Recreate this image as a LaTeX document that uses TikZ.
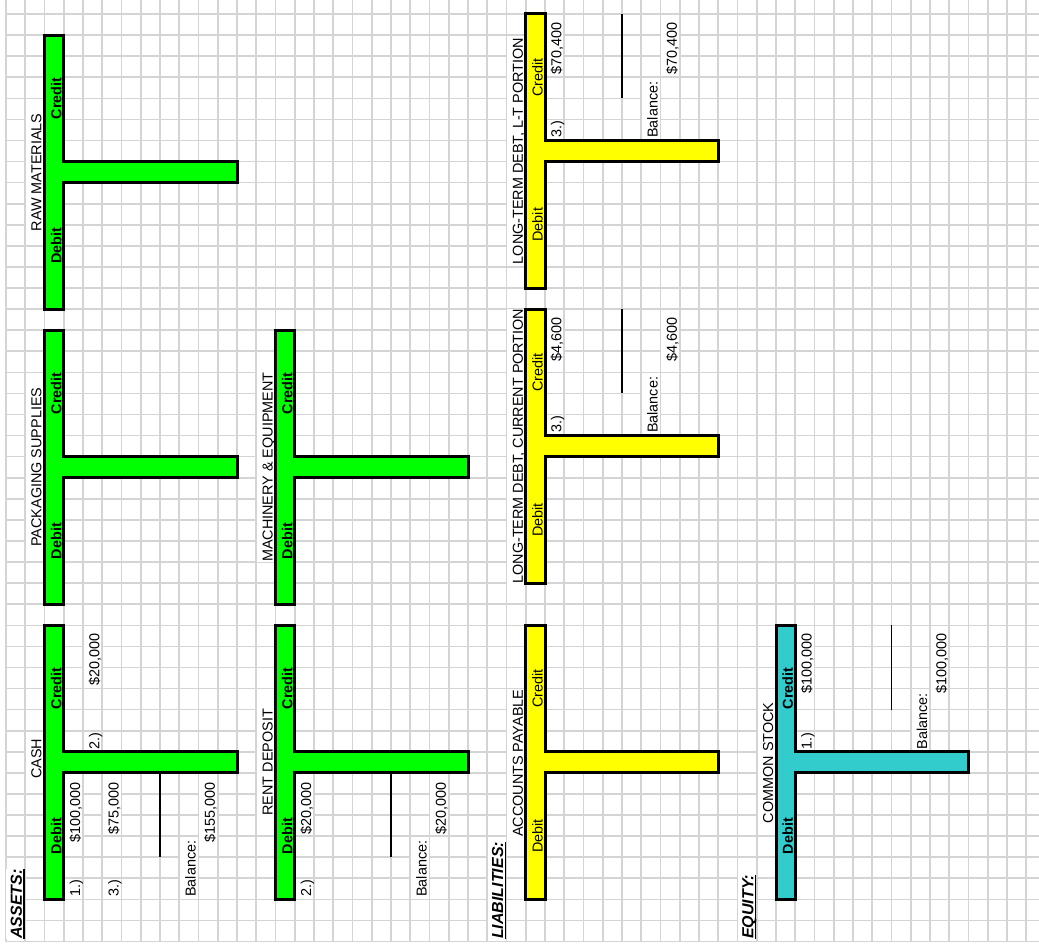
\documentclass[tikz,border=0pt]{standalone}
\usepackage{fontspec}
\setmainfont{Liberation Sans}
\newcommand\colx[1]{(6+19.25*(#1))}
\newcommand\rowy[1]{(14+21.08*(#1))}
\definecolor{tgreen}{HTML}{00FF00}
\definecolor{tyellow}{HTML}{FFFF00}
\definecolor{tteal}{HTML}{33CCCC}
\definecolor{gridgray}{HTML}{D4D4D4}
\tikzset{
  gridline/.style={draw=gridgray, line width=1.6pt, line cap=rect},
  tbar/.style={draw=black, line width=3pt, line join=miter},
  cell/.style={rotate=90, font=\fontsize{14.4}{16}\selectfont, inner sep=0pt,
    text height=15.5pt, text depth=2pt, fill=white},
  startcell/.style={cell, anchor=base west},
  endcell/.style={cell, anchor=base east},
  titlecell/.style={cell, anchor=base},
  dclabel/.style={rotate=90, font=\fontsize{14.4}{16}\selectfont, inner sep=0pt, anchor=base},
  dcbold/.style={dclabel, font=\fontsize{14.4}{16}\selectfont\bfseries},
  header/.style={cell, anchor=base west, font=\fontsize{16}{18}\selectfont\bfseries\itshape},
  ruleline/.style={draw=black, line width=1.8pt},
  headrule/.style={draw=black, line width=1.3pt},
}
% T-account: #1 name, #2 column, #3 first row, #4 last row, #5 stem row, #6 stem end column, #7 fill, #8 label style
\newcommand\taccount[8]{%
  \draw[tbar, fill=#7] ({\colx{#2}},{\rowy{#3}}) -- ({\colx{#2+1}},{\rowy{#3}})
    -- ({\colx{#2+1}},{\rowy{#5}}) -- ({\colx{#6}},{\rowy{#5}})
    -- ({\colx{#6}},{\rowy{#5+1}}) -- ({\colx{#2+1}},{\rowy{#5+1}})
    -- ({\colx{#2+1}},{\rowy{#4}}) -- ({\colx{#2}},{\rowy{#4}}) -- cycle;
  \node[#8] (#1-debit) at ({\colx{#2+1}-2.5},{(\rowy{#5+1}+\rowy{#4})/2}) {Debit};
  \node[#8] (#1-credit) at ({\colx{#2+1}-2.5},{(\rowy{#3}+\rowy{#5})/2}) {Credit};
}
\begin{document}
\begin{tikzpicture}[x=1pt,y=-1pt]
\useasboundingbox[fill=white] (0,0) rectangle (1039,949);
% grid
\foreach \i in {0,...,53} \draw[gridline] ({\colx{\i}},0) -- ({\colx{\i}},{\rowy{44}});
\foreach \j in {0,...,44} \draw[gridline] ({\colx{0}},{\rowy{\j}}) -- (1039,{\rowy{\j}});

% section headers
\node[header] (assets) at ({\colx{1}-3.5},{\rowy{44}-2.5}) {ASSETS:};
\node[header] (liab) at ({\colx{26}-3.5},{\rowy{44}-2.5}) {LIABILITIES:};
\node[header] (equity) at ({\colx{39}-3.5},{\rowy{44}-2.5}) {EQUITY:};

% titles
\node[titlecell] (rm-title) at ({\colx{2}-3},{\rowy{7}+11}) {RAW MATERIALS};
\node[titlecell] (ps-title) at ({\colx{2}-3},{\rowy{21}+10.5}) {PACKAGING SUPPLIES};
\node[titlecell] (cash-title) at ({\colx{2}-3},{\rowy{35}+7}) {CASH};
\node[titlecell] (me-title) at ({\colx{14}-3},{\rowy{21}+10.5}) {MACHINERY \& EQUIPMENT};
\node[titlecell] (rd-title) at ({\colx{14}-3},{\rowy{35}+10.5}) {RENT DEPOSIT};
\node[titlecell] (ltd-title) at ({\colx{27}-3},{\rowy{6}+10.5}) {LONG-TERM DEBT, L-T PORTION};
\node[titlecell] (cur-title) at ({\colx{27}-3},{\rowy{20}+10.5}) {LONG-TERM DEBT, CURRENT PORTION};
\node[titlecell] (ap-title) at ({\colx{27}-3},{\rowy{35}+11.5}) {ACCOUNTS PAYABLE};
\node[titlecell] (cs-title) at ({\colx{40}-3},{\rowy{35}+11}) {COMMON STOCK};

% CASH entries
\node[startcell] (cash-n1) at ({\colx{4}-3},{\rowy{42}-2.5}) {1.)};
\node[endcell] (cash-a1) at ({\colx{4}-3},{\rowy{36}+9}) {\$100,000};
\node[startcell] (cash-n2) at ({\colx{5}-3},{\rowy{35}-2.5}) {2.)};
\node[endcell] (cash-a2) at ({\colx{5}-3},{\rowy{29}+8}) {\$20,000};
\node[startcell] (cash-n3) at ({\colx{6}-3},{\rowy{42}-2.5}) {3.)};
\node[endcell] (cash-a3) at ({\colx{6}-3},{\rowy{36}+9}) {\$75,000};
\node[startcell] (cash-bal) at ({\colx{10}-3},{\rowy{42}-2.5}) {Balance:};
\node[endcell] (cash-balv) at ({\colx{11}-3},{\rowy{36}+9}) {\$155,000};

% RENT DEPOSIT entries
\node[startcell] (rd-n2) at ({\colx{16}-3},{\rowy{42}-2.5}) {2.)};
\node[endcell] (rd-a2) at ({\colx{16}-3},{\rowy{36}+9}) {\$20,000};
\node[startcell] (rd-bal) at ({\colx{22}-3},{\rowy{42}-2.5}) {Balance:};
\node[endcell] (rd-balv) at ({\colx{23}-3},{\rowy{36}+9}) {\$20,000};

% LTD L-T entries
\node[startcell] (ltd-n3) at ({\colx{29}-3},{\rowy{6}-2.5}) {3.)};
\node[endcell] (ltd-a3) at ({\colx{29}-3},{\rowy{0}+8}) {\$70,400};
\node[startcell] (ltd-bal) at ({\colx{34}-3},{\rowy{6}-2.5}) {Balance:};
\node[endcell] (ltd-balv) at ({\colx{35}-3},{\rowy{0}+8}) {\$70,400};

% LTD current entries
\node[startcell] (cur-n3) at ({\colx{29}-3},{\rowy{20}-2.5}) {3.)};
\node[endcell] (cur-a3) at ({\colx{29}-3},{\rowy{14}+8.5}) {\$4,600};
\node[startcell] (cur-bal) at ({\colx{34}-3},{\rowy{20}-2.5}) {Balance:};
\node[endcell] (cur-balv) at ({\colx{35}-3},{\rowy{14}+8.5}) {\$4,600};

% COMMON STOCK entries
\node[startcell] (cs-n1) at ({\colx{42}-3},{\rowy{35}-2.5}) {1.)};
\node[endcell] (cs-a1) at ({\colx{42}-3},{\rowy{29}+8}) {\$100,000};
\node[startcell] (cs-bal) at ({\colx{48}-3},{\rowy{35}-2.5}) {Balance:};
\node[endcell] (cs-balv) at ({\colx{49}-3},{\rowy{29}+8}) {\$100,000};

% T accounts
\taccount{rm}{2}{1}{14}{7}{12}{tgreen}{dcbold}
\taccount{ps}{2}{15}{28}{21}{12}{tgreen}{dcbold}
\taccount{cash}{2}{29}{42}{35}{12}{tgreen}{dcbold}
\taccount{me}{14}{15}{28}{21}{24}{tgreen}{dcbold}
\taccount{rd}{14}{29}{42}{35}{24}{tgreen}{dcbold}
\taccount{ltd}{27}{0}{13}{6}{37}{tyellow}{dclabel}
\taccount{cur}{27}{14}{27}{20}{37}{tyellow}{dclabel}
\taccount{ap}{27}{29}{42}{35}{37}{tyellow}{dclabel}
\taccount{cs}{40}{29}{42}{35}{50}{tteal}{dcbold}

% balance rules
\draw[ruleline] ({\colx{8}},{\rowy{36}}) -- ({\colx{8}},{\rowy{40}});
\draw[ruleline] ({\colx{20}},{\rowy{36}}) -- ({\colx{20}},{\rowy{40}});
\draw[ruleline] ({\colx{32}},{\rowy{0}}) -- ({\colx{32}},{\rowy{4}});
\draw[ruleline] ({\colx{32}},{\rowy{14}}) -- ({\colx{32}},{\rowy{18}});
\draw[ruleline] ({\colx{46}},{\rowy{29}}) -- ({\colx{46}},{\rowy{33}});

% header underlines
\draw[headrule] ([xshift=2.2pt]assets.base west) -- ([xshift=2.2pt]assets.base east);
\draw[headrule] ([xshift=2.2pt]liab.base west) -- ([xshift=2.2pt]liab.base east);
\draw[headrule] ([xshift=2.2pt]equity.base west) -- ([xshift=2.2pt]equity.base east);
\end{tikzpicture}
\end{document}
